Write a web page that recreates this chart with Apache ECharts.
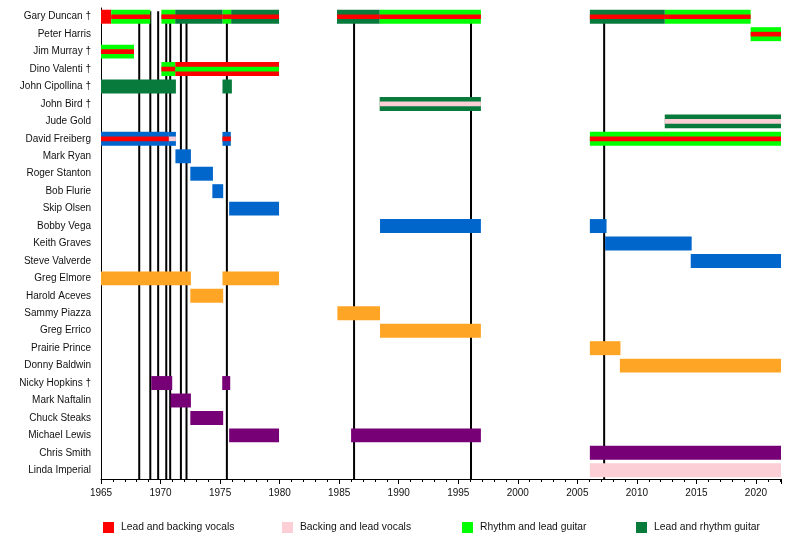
<!DOCTYPE html>
<html>
<head>
    <meta charset="utf-8">
    <title>Quicksilver Messenger Service timeline</title>
    <script src="https://cdn.jsdelivr.net/npm/echarts@6/dist/echarts.min.js"></script>
    <style>
        html, body { margin: 0; padding: 0; background: #fff; }
        #chart1 { width: 800px; height: 538px; }
    </style>
</head>
<body>
<div id="chart1"></div>
<script>
    // band members, top to bottom
    var members = ['Gary Duncan †', 'Peter Harris', 'Jim Murray †', 'Dino Valenti †', 'John Cipollina †',
        'John Bird †', 'Jude Gold', 'David Freiberg', 'Mark Ryan', 'Roger Stanton', 'Bob Flurie',
        'Skip Olsen', 'Bobby Vega', 'Keith Graves', 'Steve Valverde', 'Greg Elmore', 'Harold Aceves',
        'Sammy Piazza', 'Greg Errico', 'Prairie Prince', 'Donny Baldwin', 'Nicky Hopkins †',
        'Mark Naftalin', 'Chuck Steaks', 'Michael Lewis', 'Chris Smith', 'Linda Imperial'];

    // album release dates (black lines)
    var albums = [1968.21, 1969.14, 1969.8, 1970.48, 1970.81, 1971.71, 1972.18, 1975.57, 1986.25, 1996.07, 2007.25];

    // roles: key, legend name, colour
    var roleKeys = ['vocals', 'backing', 'rhythm', 'lead', 'bass', 'drums', 'keys'];
    var roleNames = ['Lead and backing vocals', 'Backing and lead vocals', 'Rhythm and lead guitar',
        'Lead and rhythm guitar', 'Bass', 'Drums', 'Keyboards'];
    var roleColors = ['#ff0000', '#fbcfd5', '#00ff00', '#077a3c', '#0066cc', '#ffa526', '#770077'];

    // [member, from, to, main role, second role (stripe)]
    var spells = [
        ['Gary Duncan †', 1965.0, 1965.86, 'vocals', null],
        ['Gary Duncan †', 1965.86, 1969.14, 'rhythm', 'vocals'],
        ['Gary Duncan †', 1970.07, 1971.23, 'rhythm', 'vocals'],
        ['Gary Duncan †', 1971.23, 1975.2, 'lead', 'vocals'],
        ['Gary Duncan †', 1975.2, 1975.93, 'rhythm', 'vocals'],
        ['Gary Duncan †', 1975.93, 1979.95, 'lead', 'vocals'],
        ['Gary Duncan †', 1984.82, 1988.4, 'lead', 'vocals'],
        ['Gary Duncan †', 1988.4, 1996.9, 'rhythm', 'vocals'],
        ['Gary Duncan †', 2006.05, 2012.34, 'lead', 'vocals'],
        ['Gary Duncan †', 2012.34, 2019.55, 'rhythm', 'vocals'],
        ['Peter Harris', 2019.55, 2022.1, 'rhythm', 'vocals'],
        ['Jim Murray †', 1965.0, 1967.77, 'rhythm', 'vocals'],
        ['Dino Valenti †', 1970.07, 1971.23, 'rhythm', 'vocals'],
        ['Dino Valenti †', 1971.23, 1979.95, 'vocals', 'rhythm'],
        ['John Cipollina †', 1965.0, 1971.29, 'lead', null],
        ['John Cipollina †', 1975.2, 1975.99, 'lead', null],
        ['John Bird †', 1988.4, 1996.9, 'lead', 'backing'],
        ['Jude Gold', 2012.34, 2022.1, 'lead', 'backing'],
        ['David Freiberg', 1965.0, 1970.7, 'bass', 'vocals'],
        ['David Freiberg', 1970.7, 1971.29, 'bass', 'backing'],
        ['David Freiberg', 1975.2, 1975.9, 'bass', 'vocals'],
        ['David Freiberg', 2006.05, 2022.1, 'rhythm', 'vocals'],
        ['Mark Ryan', 1971.25, 1972.55, 'bass', null],
        ['Roger Stanton', 1972.5, 1974.4, 'bass', null],
        ['Bob Flurie', 1974.35, 1975.26, 'bass', null],
        ['Skip Olsen', 1975.76, 1979.95, 'bass', null],
        ['Bobby Vega', 1988.43, 1996.9, 'bass', null],
        ['Bobby Vega', 2006.05, 2007.45, 'bass', null],
        ['Keith Graves', 2007.33, 2014.6, 'bass', null],
        ['Steve Valverde', 2014.52, 2022.1, 'bass', null],
        ['Greg Elmore', 1965.0, 1972.55, 'drums', null],
        ['Greg Elmore', 1975.2, 1979.95, 'drums', null],
        ['Harold Aceves', 1972.5, 1975.26, 'drums', null],
        ['Sammy Piazza', 1984.85, 1988.43, 'drums', null],
        ['Greg Errico', 1988.43, 1996.9, 'drums', null],
        ['Prairie Prince', 2006.05, 2008.62, 'drums', null],
        ['Donny Baldwin', 2008.57, 2022.1, 'drums', null],
        ['Nicky Hopkins †', 1969.22, 1970.98, 'keys', null],
        ['Nicky Hopkins †', 1975.18, 1975.85, 'keys', null],
        ['Mark Naftalin', 1970.84, 1972.55, 'keys', null],
        ['Chuck Steaks', 1972.5, 1975.26, 'keys', null],
        ['Michael Lewis', 1975.76, 1979.95, 'keys', null],
        ['Michael Lewis', 1986.0, 1996.9, 'keys', null],
        ['Chris Smith', 2006.05, 2022.1, 'keys', null],
        ['Linda Imperial', 2006.05, 2022.1, 'backing', null]
    ];

    var xMin = 1965, xMax = 2022.1;
    var font = "'Liberation Sans', Arial, sans-serif";

    function colorOf(key) {
        return roleColors[roleKeys.indexOf(key)];
    }

    // bar (or stripe) drawing
    function barRenderer(frac) {
        return function (params, api) {
            var s = api.coord([api.value(0), api.value(2)]);
            var e = api.coord([api.value(1), api.value(2)]);
            var h = api.size([0, 1])[1] * 0.8 * frac;
            return {
                type: 'rect',
                shape: {x: s[0], y: s[1] - h / 2, width: e[0] - s[0], height: h},
                style: {fill: api.visual('color')}
            };
        };
    }

    var series = [];
    // album lines, behind the bars
    series.push({
        type: 'custom',
        name: 'Albums',
        z: 1,
        silent: true,
        data: albums.map(function (a) { return [a]; }),
        renderItem: function (params, api) {
            var p = api.coord([api.value(0), 0]);
            var cs = params.coordSys;
            var band = cs.height / members.length;
            return {
                type: 'line',
                shape: {x1: p[0], y1: cs.y + band * 0.18, x2: p[0], y2: cs.y + cs.height},
                style: {stroke: '#000', lineWidth: 2}
            };
        }
    });
    roleKeys.forEach(function (key, i) {
        series.push({
            type: 'custom',
            name: roleNames[i],
            z: 3,
            itemStyle: {color: roleColors[i]},
            encode: {x: [0, 1], y: 2},
            data: spells.filter(function (s) { return s[3] === key; })
                .map(function (s) { return [s[1], s[2], s[0]]; }),
            renderItem: barRenderer(1)
        });
    });
    // second role drawn as a thin stripe through the middle
    series.push({
        type: 'custom',
        name: 'stripes',
        z: 4,
        encode: {x: [0, 1], y: 2},
        data: spells.filter(function (s) { return s[4]; }).map(function (s) {
            return {value: [s[1], s[2], s[0]], itemStyle: {color: colorOf(s[4])}};
        }),
        renderItem: barRenderer(1 / 3)
    });

    var legendLeft = [98, 277, 457, 631];
    var legends = legendLeft.map(function (l, i) {
        return {
            left: l,
            top: 517,
            data: [roleNames[i]],
            icon: 'rect',
            itemWidth: 11,
            itemHeight: 11,
            selectedMode: false,
            textStyle: {fontFamily: font, fontSize: 10.3, color: '#111', padding: [0, 0, 0, 2]}
        };
    });

    var myChart1 = echarts.init(document.getElementById('chart1'));
    myChart1.setOption({
        animation: false,
        backgroundColor: '#fff',
        grid: {left: 101, right: 19, top: 8, bottom: 59},
        legend: legends,
        xAxis: {
            type: 'value',
            min: xMin,
            max: xMax,
            interval: 5,
            splitLine: {show: false},
            axisLine: {show: true, lineStyle: {color: '#000', width: 1}},
            axisTick: {show: true, length: 5, lineStyle: {color: '#000'}},
            minorTick: {show: true, splitNumber: 5, length: 3, lineStyle: {color: '#000'}},
            axisLabel: {
                fontFamily: font, fontSize: 10, color: '#111', margin: 9,
                formatter: function (v) { return v % 5 === 0 ? String(v) : ''; }
            }
        },
        yAxis: {
            type: 'category',
            data: members,
            inverse: true,
            axisLine: {show: true, lineStyle: {color: '#000', width: 1}},
            axisTick: {show: false},
            splitLine: {show: false},
            axisLabel: {fontFamily: font, fontSize: 10, color: '#111', margin: 10}
        },
        series: series
    });
</script>
</body>
</html>
